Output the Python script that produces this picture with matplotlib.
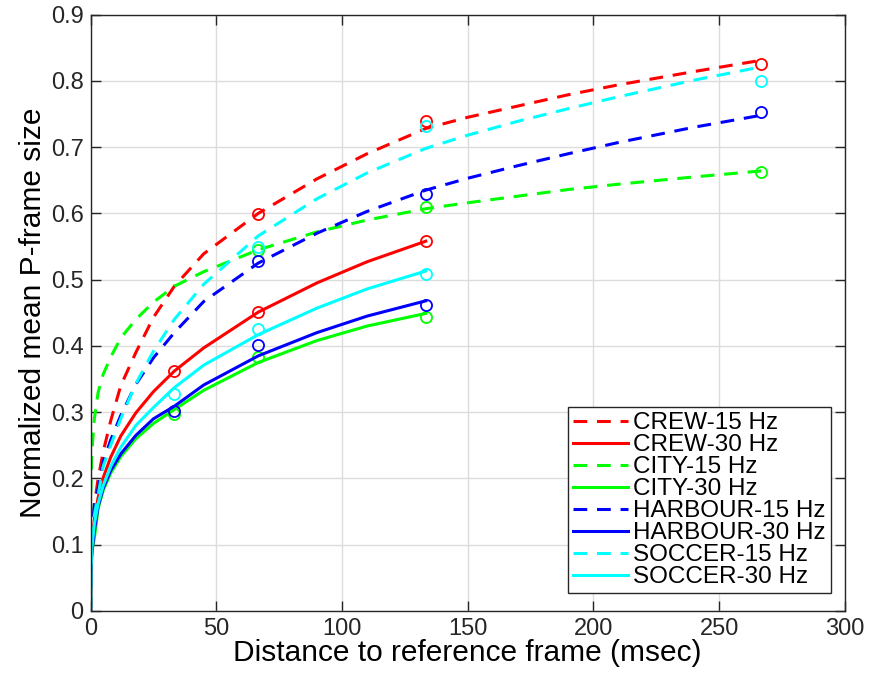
import numpy as np
import matplotlib
matplotlib.use("Agg")
import matplotlib.pyplot as plt

plt.rcParams['font.family'] = ['Liberation Sans', 'DejaVu Sans']

# measured points (circles)
x30 = [33.3, 66.7, 133.3]
x15 = [66.7, 133.3, 266.7]
pts = {
    'CREW-15 Hz':    [0.599, 0.740, 0.826],
    'CREW-30 Hz':    [0.362, 0.451, 0.558],
    'CITY-15 Hz':    [0.544, 0.609, 0.663],
    'CITY-30 Hz':    [0.298, 0.383, 0.443],
    'HARBOUR-15 Hz': [0.528, 0.629, 0.753],
    'HARBOUR-30 Hz': [0.302, 0.402, 0.461],
    'SOCCER-15 Hz':  [0.549, 0.732, 0.800],
    'SOCCER-30 Hz':  [0.328, 0.426, 0.509],
}

# fitted curves
cx30 = [0, 0.1, 0.5, 1.5, 3, 5, 8, 12, 18, 25, 33.3, 45, 66.7, 90, 110, 133.3]
cx15 = cx30 + [150, 170, 190, 210, 240, 266.7]
curves = {
    'CREW-15 Hz':    [0, 0.054, 0.10, 0.16, 0.20, 0.24, 0.287, 0.34, 0.39, 0.443, 0.49, 0.539,
                      0.600, 0.652, 0.690, 0.728, 0.745, 0.762, 0.779, 0.794, 0.814, 0.831],
    'CREW-30 Hz':    [0, 0.059, 0.098, 0.138, 0.171, 0.201, 0.232, 0.264, 0.299, 0.331, 0.362,
                      0.397, 0.451, 0.495, 0.527, 0.558],
    'CITY-15 Hz':    [0, 0.18, 0.24, 0.29, 0.33, 0.357, 0.383, 0.412, 0.44, 0.466, 0.49, 0.512,
                      0.545, 0.572, 0.590, 0.607, 0.616, 0.626, 0.636, 0.644, 0.655, 0.664],
    'CITY-30 Hz':    [0, 0.056, 0.09, 0.11, 0.155, 0.182, 0.208, 0.233, 0.26, 0.283, 0.304,
                      0.333, 0.375, 0.408, 0.430, 0.449],
    'HARBOUR-15 Hz': [0, 0.06, 0.12, 0.16, 0.185, 0.225, 0.258, 0.295, 0.342, 0.382, 0.42, 0.467,
                      0.525, 0.570, 0.603, 0.635, 0.653, 0.672, 0.690, 0.707, 0.730, 0.748],
    'HARBOUR-30 Hz': [0, 0.055, 0.087, 0.121, 0.158, 0.185, 0.212, 0.237, 0.265, 0.29, 0.309,
                      0.341, 0.385, 0.420, 0.445, 0.468],
    'SOCCER-15 Hz':  [0, 0.05, 0.10, 0.145, 0.175, 0.218, 0.25, 0.29, 0.343, 0.392, 0.44, 0.493,
                      0.566, 0.622, 0.661, 0.698, 0.718, 0.739, 0.758, 0.776, 0.801, 0.821],
    'SOCCER-30 Hz':  [0, 0.057, 0.094, 0.131, 0.162, 0.189, 0.218, 0.247, 0.280, 0.307, 0.337,
                      0.371, 0.417, 0.457, 0.486, 0.513],
}
colors = {'CREW': (1, 0, 0), 'CITY': (0, 1, 0), 'HARBOUR': (0, 0, 1), 'SOCCER': (0, 1, 1)}

fig = plt.figure(figsize=(8.71, 6.77), dpi=100)
ax = fig.add_axes([0.104, 0.0975, 0.866, 0.881])

for name, yy in curves.items():
    seq, rate = name.split('-')
    c = colors[seq]
    if rate.startswith('15'):
        ax.plot(cx15, yy, color=c, lw=2.2, dashes=(4.5, 3.2), label=name)
        ax.plot(x15, pts[name], 'o', mfc='none', mec=c, ms=8, mew=1.3)
    else:
        ax.plot(cx30, yy, color=c, lw=2.2, label=name)
        ax.plot(x30, pts[name], 'o', mfc='none', mec=c, ms=8, mew=1.3)

ax.set_xlim(0, 300)
ax.set_ylim(0, 0.9)
ax.set_xticks(np.arange(0, 301, 50))
ax.set_yticks(np.arange(0, 0.91, 0.1))
ax.set_yticklabels(['0'] + ['%.1f' % v for v in np.arange(0.1, 0.91, 0.1)])
ax.grid(True, color='#dcdcdc', lw=1)
ax.set_axisbelow(True)
ax.tick_params(direction='in', top=True, right=True, length=7, width=1,
               labelsize=17, colors='#262626', pad=5)
for s in ax.spines.values():
    s.set_color('#262626')
    s.set_linewidth(1)
ax.set_xlabel('Distance to reference frame (msec)', fontsize=21.5, labelpad=-1)
ax.set_ylabel('Normalized mean P-frame size', fontsize=21.5, labelpad=3)

leg = ax.legend(loc='lower right', fontsize=17.5, frameon=True, fancybox=False,
                edgecolor='#262626', framealpha=1, handlelength=2.3,
                handletextpad=0.2, labelspacing=0.0, borderpad=0.2,
                borderaxespad=0, bbox_to_anchor=(0.9814, 0.030))
leg.get_frame().set_linewidth(1)

fig.savefig('out.png', dpi=100)
